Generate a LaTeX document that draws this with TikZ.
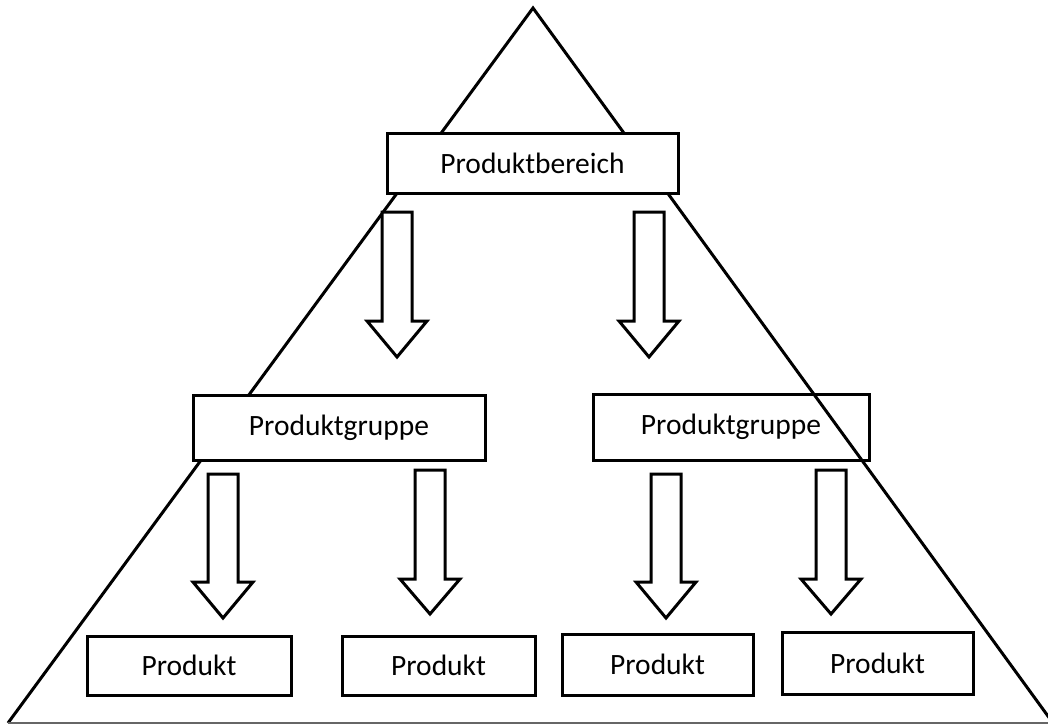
\documentclass[tikz,border=0pt]{standalone}
\usepackage{fontspec}
\setmainfont{Carlito}
\begin{document}
\begin{tikzpicture}[x=1pt,y=-1pt,
  box/.style={draw=black,line width=3pt,fill=white,rectangle,inner sep=0pt,
    font=\fontsize{29.5}{34}\selectfont},
  openbox/.style={box,fill=none},
  tri/.style={draw=black,line width=3pt,line join=miter},
  bigarrow/.style={draw=black,line width=3pt,fill=white,line join=miter}]
\newcommand\blockarrow[4]{%
  \draw[bigarrow] (#1-15,#2) -- (#1+15,#2) -- (#1+15,#3) -- (#1+30,#3)
     -- (#1,#4) -- (#1-30,#3) -- (#1-15,#3) -- cycle;}
\useasboundingbox (0,0) rectangle (1048,724);
% pyramid
\coordinate (apex) at (533,8);
\coordinate (bl) at (8,723);
\coordinate (br) at (1053,723);
\draw[tri] (bl) -- (apex) -- (br);
\draw[draw=gray!80!black,line width=2pt] (bl) -- (br);
% boxes
\node[box,minimum width=291pt,minimum height=60pt] (bereich) at (532.5,163) {Produktbereich};
\node[box,minimum width=292pt,minimum height=65pt] (g1) at (339,427.5) {Produktgruppe};
\node[openbox,minimum width=276pt,minimum height=66pt] (g2) at (731,427) {Produktgruppe};
\node[box,minimum width=204pt,minimum height=59pt] (p1) at (189,665.5) {Produkt};
\node[box,minimum width=193pt,minimum height=59pt] (p2) at (438.5,665.5) {Produkt};
\node[box,minimum width=191pt,minimum height=61pt] (p3) at (657.5,664.5) {Produkt};
\node[box,minimum width=191pt,minimum height=62pt] (p4) at (877.5,663) {Produkt};
% block arrows
\blockarrow{397}{212}{321}{357}
\blockarrow{649}{212}{321}{357}
\blockarrow{223}{474}{582}{618}
\blockarrow{430}{470}{579}{614}
\blockarrow{666}{474}{582}{618}
\blockarrow{831}{470}{579}{614}
\end{tikzpicture}
\end{document}
